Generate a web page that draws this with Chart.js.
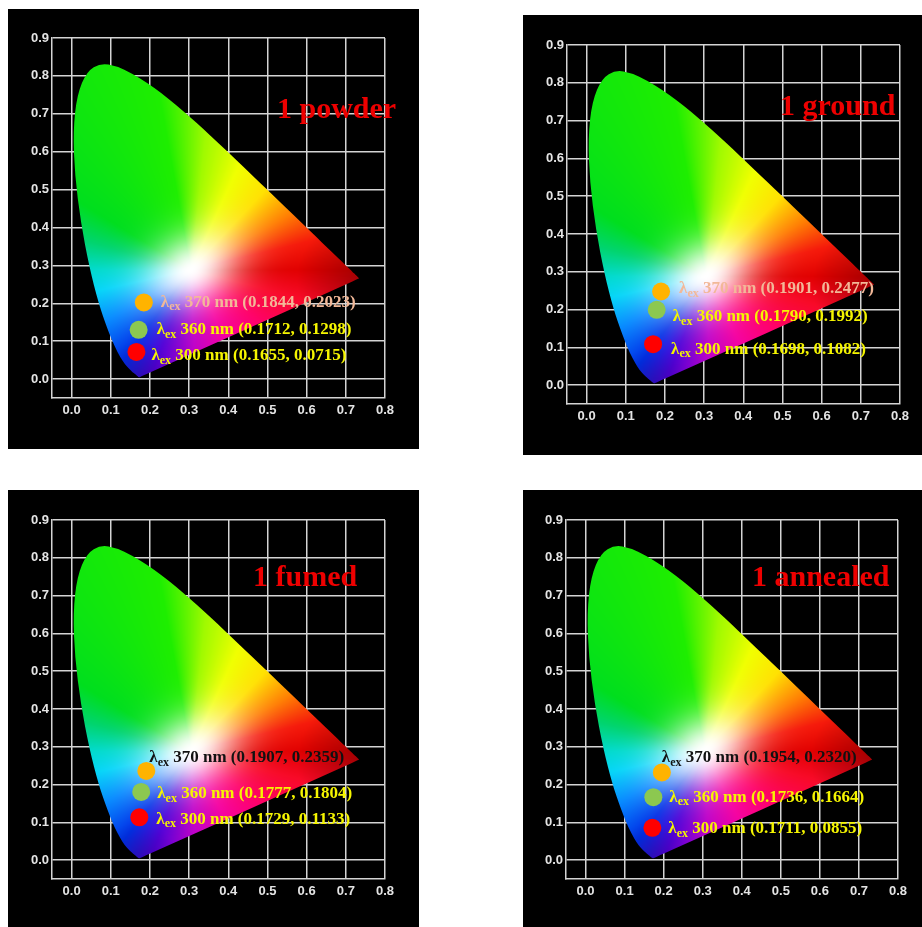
<!DOCTYPE html>
<html>
<head>
<meta charset="utf-8">
<script src="https://cdn.jsdelivr.net/npm/chart.js@4.4.1/dist/chart.umd.min.js"></script>
<style>
  html, body { margin: 0; padding: 0; background: #ffffff; }
  body { width: 922px; height: 927px; position: relative; overflow: hidden; }
  .panel { position: absolute; background: #000000; }
  .panel canvas { display: block; }
</style>
</head>
<body>
<div class="panel" style="left:8px;top:9px;width:411px;height:440px;"><canvas id="c1"></canvas></div>
<div class="panel" style="left:523px;top:15px;width:399px;height:440px;"><canvas id="c2"></canvas></div>
<div class="panel" style="left:8px;top:490px;width:411px;height:437px;"><canvas id="c3"></canvas></div>
<div class="panel" style="left:523px;top:490px;width:399px;height:437px;"><canvas id="c4"></canvas></div>
<script>
// ---------------- DATA ----------------
const panelTitles = ['1 powder', '1 ground', '1 fumed', '1 annealed'];
const excitationNm = [370, 360, 300];

const powderX   = [0.1844, 0.1712, 0.1655];
const powderY   = [0.2023, 0.1298, 0.0715];
const groundX   = [0.1901, 0.1790, 0.1698];
const groundY   = [0.2477, 0.1992, 0.1082];
const fumedX    = [0.1907, 0.1777, 0.1729];
const fumedY    = [0.2359, 0.1804, 0.1133];
const annealedX = [0.1954, 0.1736, 0.1711];
const annealedY = [0.2320, 0.1664, 0.0855];

const xTickValues = [0.0, 0.1, 0.2, 0.3, 0.4, 0.5, 0.6, 0.7, 0.8];
const xTickLabels = ['0.0', '0.1', '0.2', '0.3', '0.4', '0.5', '0.6', '0.7', '0.8'];
const yTickValues = [0.0, 0.1, 0.2, 0.3, 0.4, 0.5, 0.6, 0.7, 0.8, 0.9];
const yTickLabels = ['0.0', '0.1', '0.2', '0.3', '0.4', '0.5', '0.6', '0.7', '0.8', '0.9'];

// CIE 1931 spectral locus (380-700 nm), chromaticity x and y
const locusX = [0.1741,0.1740,0.1738,0.1736,0.1733,0.1730,0.1726,0.1721,0.1714,0.1703,0.1689,0.1669,0.1644,0.1611,0.1566,0.1510,0.1440,0.1355,0.1241,0.1096,0.0913,0.0687,0.0454,0.0235,0.0082,0.0039,0.0139,0.0389,0.0743,0.1142,0.1547,0.1929,0.2296,0.2658,0.3016,0.3373,0.3731,0.4087,0.4441,0.4788,0.5125,0.5448,0.5752,0.6029,0.6270,0.6482,0.6658,0.6801,0.6915,0.7006,0.7079,0.7140,0.7190,0.7230,0.7260,0.7300,0.7334,0.7347];
const locusY = [0.0050,0.0050,0.0049,0.0049,0.0048,0.0048,0.0048,0.0048,0.0051,0.0058,0.0069,0.0086,0.0109,0.0138,0.0177,0.0227,0.0297,0.0399,0.0578,0.0868,0.1327,0.2007,0.2950,0.4127,0.5384,0.6548,0.7502,0.8120,0.8338,0.8262,0.8059,0.7816,0.7543,0.7243,0.6923,0.6589,0.6245,0.5896,0.5547,0.5202,0.4866,0.4544,0.4242,0.3965,0.3725,0.3514,0.3340,0.3197,0.3083,0.2993,0.2920,0.2859,0.2809,0.2770,0.2740,0.2700,0.2666,0.2653];

// ---------------- STYLE / LAYOUT ----------------
const pointColors = ['#ffb300', '#8cc850', '#ff0000'];
const gridColor = '#d4d4d4';
const tickColor = '#e4e4e4';

const panels = [
  { id: 'c1', w: 411, h: 440, xs: powderX, ys: powderY, pad: { l: 44, t: 29, r: 34, b: 51 },
    title: { dx: 225, dy: 72 }, labelColors: ['#f2b898', '#f5f500', '#f5f500'],
    offs: [[17, 0], [18, 0], [15, 4]] },
  { id: 'c2', w: 399, h: 440, xs: groundX, ys: groundY, pad: { l: 44, t: 30, r: 22, b: 51 },
    title: { dx: 213, dy: 62 }, labelColors: ['#f2b898', '#f5f500', '#f5f500'],
    offs: [[18, -3], [16, 7], [18, 5]] },
  { id: 'c3', w: 411, h: 437, xs: fumedX, ys: fumedY, pad: { l: 44, t: 30, r: 34, b: 48 },
    title: { dx: 201, dy: 58 }, labelColors: ['#111111', '#f5f500', '#f5f500'],
    offs: [[3, -13], [16, 2], [17, 2]] },
  { id: 'c4', w: 399, h: 437, xs: annealedX, ys: annealedY, pad: { l: 43, t: 30, r: 24, b: 48 },
    title: { dx: 186, dy: 58 }, labelColors: ['#111111', '#f5f500', '#f5f500'],
    offs: [[0, -15], [16, 0], [16, 1]] }
];

// ---------------- COLOUR MODEL (stylised chromaticity shading) ----------------
const WX = 0.305, WY = 0.288;
const hueStops = [
  [0,   [225, 0, 0]],
  [14,  [245, 25, 10]],
  [30,  [255, 125, 0]],
  [48,  [255, 225, 0]],
  [66,  [240, 255, 0]],
  [84,  [160, 250, 0]],
  [100, [30, 238, 0]],
  [148, [0, 222, 30]],
  [164, [0, 212, 110]],
  [180, [0, 218, 205]],
  [193, [0, 212, 248]],
  [212, [0, 135, 255]],
  [234, [0, 45, 230]],
  [250, [80, 0, 215]],
  [272, [190, 0, 200]],
  [296, [245, 0, 160]],
  [322, [255, 0, 105]],
  [345, [248, 10, 40]],
  [360, [225, 0, 0]]
];
function hueColor(a) {
  for (let k = 1; k < hueStops.length; k++) {
    if (a <= hueStops[k][0]) {
      const [a0, c0] = hueStops[k - 1], [a1, c1] = hueStops[k];
      const t = (a - a0) / (a1 - a0);
      return [c0[0] + (c1[0] - c0[0]) * t, c0[1] + (c1[1] - c0[1]) * t, c0[2] + (c1[2] - c0[2]) * t];
    }
  }
  return hueStops[0][1];
}
const ROT = 30 * Math.PI / 180, CR = Math.cos(ROT), SR = Math.sin(ROT);
function cieColor(x, y) {
  const dx = x - WX, dy = y - WY;
  let a = Math.atan2(dy, dx) * 180 / Math.PI;
  if (a < 0) a += 360;
  const c = hueColor(a);
  const u = dx * CR + dy * SR, v = -dx * SR + dy * CR;
  const d = Math.hypot(u / 1.5, v);
  const s = 1 - Math.exp(-Math.pow(d / 0.09, 2));
  let r = 255 + (c[0] - 255) * s, g = 255 + (c[1] - 255) * s, b = 255 + (c[2] - 255) * s;
  const dRed = Math.hypot(x - 0.735, y - 0.265);
  const dBlue = Math.hypot(x - 0.17, y - 0.0);
  let k = 1;
  if (dRed < 0.16) k *= 0.72 + 0.28 * (dRed / 0.16);
  if (dBlue < 0.1) k *= 0.82 + 0.18 * (dBlue / 0.1);
  return [r * k, g * k, b * k];
}

// ---------------- PLUGINS ----------------
const cieFill = {
  id: 'cieFill',
  beforeDatasetsDraw(chart) {
    const { ctx, chartArea: a, scales } = chart;
    const sx = scales.x, sy = scales.y;
    const w = Math.ceil(a.right - a.left), h = Math.ceil(a.bottom - a.top);
    const off = document.createElement('canvas');
    off.width = w; off.height = h;
    const octx = off.getContext('2d');
    const img = octx.createImageData(w, h);
    for (let j = 0; j < h; j++) {
      const cy = sy.getValueForPixel(a.top + j + 0.5);
      for (let i = 0; i < w; i++) {
        const cx = sx.getValueForPixel(a.left + i + 0.5);
        const c = cieColor(cx, cy);
        const p = (j * w + i) * 4;
        img.data[p] = c[0]; img.data[p + 1] = c[1]; img.data[p + 2] = c[2]; img.data[p + 3] = 255;
      }
    }
    octx.putImageData(img, 0, 0);
    const pts = locusX.map((v, k) => [sx.getPixelForValue(v), sy.getPixelForValue(locusY[k])]);
    ctx.save();
    ctx.beginPath();
    const n = pts.length;
    const mid = (p, q) => [(p[0] + q[0]) / 2, (p[1] + q[1]) / 2];
    const m0 = mid(pts[n - 1], pts[0]);
    ctx.moveTo(m0[0], m0[1]);
    for (let k = 0; k < n; k++) {
      const p = pts[k], q = pts[(k + 1) % n];
      const m = mid(p, q);
      ctx.quadraticCurveTo(p[0], p[1], m[0], m[1]);
    }
    ctx.closePath();
    ctx.clip();
    ctx.drawImage(off, a.left, a.top);
    ctx.restore();
  }
};

const annot = {
  id: 'annot',
  afterDatasetsDraw(chart, args, opts) {
    const { ctx, chartArea: a, scales } = chart;
    const P = opts.panel;
    ctx.save();
    ctx.font = 'bold 30px "Liberation Serif", "Times New Roman", serif';
    ctx.fillStyle = '#ee0000';
    ctx.textBaseline = 'middle';
    ctx.textAlign = 'left';
    ctx.fillText(opts.title, a.left + P.title.dx, a.top + P.title.dy);
    for (let k = 0; k < P.xs.length; k++) {
      const px = scales.x.getPixelForValue(P.xs[k]);
      const py = scales.y.getPixelForValue(P.ys[k]);
      let tx = px + P.offs[k][0];
      const ty = py + P.offs[k][1];
      ctx.fillStyle = P.labelColors[k];
      ctx.font = 'bold 17px "Liberation Serif", "Times New Roman", serif';
      ctx.textBaseline = 'middle';
      ctx.fillText('\u03bb', tx, ty);
      tx += ctx.measureText('\u03bb').width;
      ctx.font = 'bold 12px "Liberation Serif", "Times New Roman", serif';
      ctx.fillText('ex', tx, ty + 5);
      tx += ctx.measureText('ex').width;
      ctx.font = 'bold 17px "Liberation Serif", "Times New Roman", serif';
      ctx.fillText(' ' + excitationNm[k] + ' nm (' + P.xs[k].toFixed(4) + ', ' + P.ys[k].toFixed(4) + ')', tx, ty);
    }
    ctx.restore();
  }
};

// ---------------- CHARTS ----------------
panels.forEach((P, idx) => {
  const cv = document.getElementById(P.id);
  cv.width = P.w; cv.height = P.h;
  cv.style.width = P.w + 'px'; cv.style.height = P.h + 'px';
  new Chart(cv, {
    type: 'scatter',
    data: {
      datasets: [{
        data: P.xs.map((v, k) => ({ x: v, y: P.ys[k] })),
        backgroundColor: pointColors,
        pointBackgroundColor: pointColors,
        pointBorderWidth: 0,
        pointRadius: 9,
        pointHoverRadius: 9
      }]
    },
    options: {
      responsive: false,
      animation: false,
      devicePixelRatio: 1,
      events: [],
      layout: { padding: { left: 0, top: P.pad.t, right: P.pad.r, bottom: 0 } },
      plugins: {
        legend: { display: false },
        tooltip: { enabled: false },
        annot: { title: panelTitles[idx], panel: P }
      },
      scales: {
        x: {
          type: 'linear', min: -0.05, max: 0.8,
          afterBuildTicks: s => { s.ticks = xTickValues.map(v => ({ value: v })); },
          afterFit: s => { s.height = P.pad.b; },
          grid: { color: gridColor, lineWidth: 1.5, drawTicks: false },
          border: { color: gridColor, width: 1.5 },
          ticks: {
            autoSkip: false, maxRotation: 0, padding: 5, color: tickColor,
            font: { family: '"Liberation Sans", Arial, sans-serif', size: 13, weight: 'bold' },
            callback: (v, i) => xTickLabels[i]
          }
        },
        y: {
          type: 'linear', min: -0.05, max: 0.9,
          afterBuildTicks: s => { s.ticks = yTickValues.map(v => ({ value: v })); },
          afterFit: s => { s.width = P.pad.l; },
          grid: { color: gridColor, lineWidth: 1.5, drawTicks: false },
          border: { color: gridColor, width: 1.5 },
          ticks: {
            autoSkip: false, padding: 3, color: tickColor,
            font: { family: '"Liberation Sans", Arial, sans-serif', size: 13, weight: 'bold' },
            callback: (v, i) => yTickLabels[i]
          }
        }
      }
    },
    plugins: [cieFill, annot]
  });
});
</script>
</body>
</html>
